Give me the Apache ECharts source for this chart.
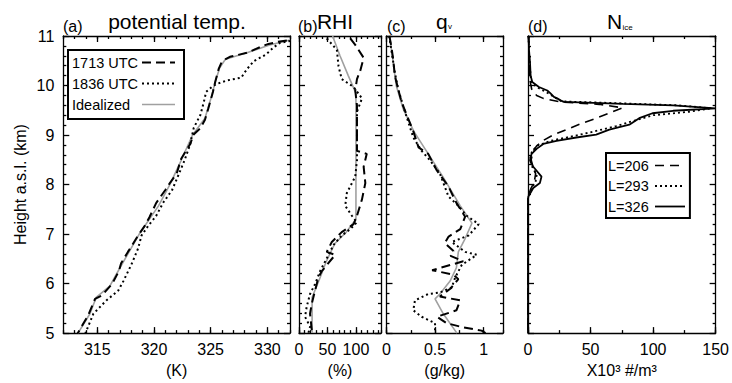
<!DOCTYPE html>
<html><head><meta charset="utf-8">
<script src="https://cdn.jsdelivr.net/npm/echarts@6/dist/echarts.min.js"></script>
<style>html,body{margin:0;padding:0;background:#fff}#c{width:732px;height:383px}</style>
</head><body><div id="c"></div>
<script>
// ---------- tick labels ----------
const heightTicks = [5, 6, 7, 8, 9, 10, 11];
const thetaTicks = [315, 320, 325, 330];
const rhiTicks = [0, 50, 100];
const qvTicks = [0, 0.5, 1];
const niceTicks = [0, 50, 100, 150];

// ---------- (a) potential temperature [K, km] ----------
const theta1713 = [[313.0,4.9],[313.2,4.97],[314.2,5.36],[314.8,5.69],[315.4,5.76],[316.3,5.99],[316.9,6.25],[317.1,6.41],[317.7,6.64],[318.6,6.97],[319.2,7.17],[319.6,7.34],[320.2,7.63],[321.0,7.89],[321.4,8.03],[322.0,8.22],[322.4,8.52],[323.2,8.82],[323.5,9.01],[324.1,9.14],[324.5,9.31],[324.8,9.54],[325.2,9.87],[325.4,10.07],[325.7,10.33],[326.0,10.49],[326.7,10.58],[328.2,10.66],[329.6,10.8],[330.1,10.84],[331.1,10.89],[332.0,10.92]];
const theta1836 = [[313.7,4.9],[313.9,4.97],[314.65,5.39],[315.8,5.66],[316.85,5.86],[317.3,6.05],[318.0,6.38],[318.6,6.71],[318.9,6.97],[319.5,7.17],[320.2,7.37],[320.8,7.63],[321.6,7.89],[322.1,8.16],[322.7,8.49],[323.2,8.82],[323.5,9.14],[324.1,9.41],[324.4,9.67],[324.6,9.87],[325.1,9.97],[325.5,10.03],[326.4,10.1],[327.7,10.16],[328.2,10.33],[328.8,10.49],[329.9,10.63],[330.5,10.76],[331.1,10.86],[332.0,10.9]];
const thetaIdeal = [[313.1,4.9],[313.3,5.0],[314.35,5.39],[314.9,5.72],[316.1,5.95],[317.0,6.32],[318.7,7.0],[320.4,7.57],[321.4,8.0],[322.4,8.49],[323.4,9.0],[324.5,9.34],[325.1,9.8],[325.4,10.07],[325.8,10.36],[326.3,10.53],[328.2,10.66],[330.2,10.82],[332.0,10.92]];

// ---------- (b) RHI [%, km] ----------
const rhi1713 = [[90,10.95],[98.8,10.82],[113.5,10.56],[107.6,10.3],[101.8,10.13],[98.8,9.9],[101.8,9.6],[101.8,9.28],[101.8,8.95],[101.8,8.68],[119,8.62],[113.5,8.36],[116.5,8.03],[110.6,7.7],[101.8,7.37],[95.9,7.2],[75,7.04],[57.6,6.84],[48.8,6.64],[63.5,6.58],[40,6.25],[34,6.12],[28.2,5.86],[22.4,5.59],[19.4,5.39],[22.4,5.07],[25,5.0]];
const rhi1836 = [[48.8,10.95],[66.5,10.72],[69.4,10.39],[75,10.13],[95.9,9.97],[110.6,9.74],[101.8,9.47],[101.8,9.14],[101.8,8.82],[101.8,8.49],[98.8,8.16],[84,7.83],[81.2,7.57],[92.9,7.37],[101.8,7.24],[90,7.1],[75,6.97],[60.6,6.78],[48.8,6.51],[37,6.25],[28.2,5.99],[19.4,5.79],[13.5,5.53],[10.6,5.33],[19.4,5.13],[16.5,5.0]];
const rhiIdeal = [[59,11],[72,10.6],[86.5,10.2],[100,9.84],[100,7.3],[83,7.04],[63,6.81],[48,6.45],[37,6.12],[23,5.72],[23,5.0]];

// ---------- (c) qv [g/kg, km] ----------
const qv1713 = [[0.03,11],[0.05,10.79],[0.069,10.53],[0.086,10.2],[0.12,9.93],[0.155,9.67],[0.207,9.41],[0.276,9.08],[0.33,8.75],[0.43,8.62],[0.517,8.29],[0.638,7.96],[0.72,7.63],[0.81,7.35],[0.76,7.1],[0.64,6.95],[0.6,6.82],[0.69,6.66],[0.66,6.56],[0.79,6.45],[0.47,6.27],[0.69,6.18],[0.74,6.09],[0.66,5.9],[0.55,5.74],[0.76,5.66],[0.72,5.46],[0.52,5.33],[0.62,5.2],[0.78,5.12],[0.98,5.05],[1.02,5.0]];
const qv1836 = [[0.028,11],[0.05,10.72],[0.086,10.26],[0.12,9.93],[0.19,9.47],[0.276,8.95],[0.362,8.68],[0.448,8.49],[0.55,8.22],[0.638,7.76],[0.74,7.57],[0.826,7.37],[0.95,7.2],[0.845,6.97],[0.672,6.84],[0.81,6.64],[0.93,6.58],[0.776,6.38],[0.707,6.12],[0.672,5.92],[0.55,5.82],[0.43,5.79],[0.293,5.66],[0.276,5.46],[0.362,5.33],[0.5,5.2],[0.5,5.0]];
const qvIdeal = [[0.03,11],[0.06,10.6],[0.1,10.0],[0.17,9.54],[0.28,9.08],[0.41,8.68],[0.58,8.16],[0.76,7.57],[0.88,7.22],[0.81,6.91],[0.74,6.64],[0.72,6.32],[0.655,6.05],[0.55,5.79],[0.5,5.69],[0.585,5.39],[0.725,5.0]];

// ---------- (d) Nice [x10^3 #/m3, km] ----------
const nice206 = [[0.5,11],[0.8,10.7],[1.2,10.4],[1.6,10.1],[2.9,9.93],[6.9,9.8],[12.2,9.74],[25.4,9.67],[57,9.62],[75.7,9.55],[67.7,9.47],[54.5,9.34],[41.3,9.22],[30.7,9.11],[20.1,9.0],[12.2,8.89],[6.9,8.78],[4.2,8.68],[2.5,8.5],[4,8.35],[6.1,8.22],[5,8.05],[2.5,7.93],[0.3,7.78],[0,7.7],[0,5.0]];
const nice293 = [[0.5,11],[0.8,10.7],[1.5,10.45],[2,10.2],[3,10.05],[7,9.97],[12,9.9],[17,9.83],[22,9.75],[27,9.68],[75,9.64],[120,9.6],[147,9.54],[128.6,9.47],[100,9.4],[83.6,9.28],[70.4,9.18],[49.2,9.05],[30.7,8.95],[17.5,8.88],[6.9,8.78],[2.9,8.65],[1.5,8.5],[3.5,8.35],[7,8.2],[6,8.05],[3,7.93],[0.3,7.78],[0,7.7],[0,5.0]];
const nice326 = [[0.5,11],[0.8,10.72],[1.6,10.46],[2.1,10.2],[3.4,10.07],[8.7,9.97],[15.4,9.9],[18,9.84],[20.7,9.77],[23.3,9.74],[26,9.7],[28.6,9.67],[76,9.63],[116,9.6],[150,9.54],[116,9.49],[99.5,9.44],[88.9,9.34],[81,9.21],[65,9.11],[54.5,9.01],[38.6,8.95],[22.8,8.88],[12.2,8.82],[6.9,8.72],[2.9,8.62],[1.6,8.49],[4.2,8.36],[10.8,8.16],[9.5,8.03],[4.2,7.93],[0.3,7.76],[0,7.7],[0,5.0]];

// ---------- layout / style ----------
const FONT = '"Liberation Sans", Arial, sans-serif';
const TOP = 36, HEIGHT = 303;
const AX = { color: '#000', width: 1.3 };
const panels = [
  { left: 63.3, width: 226.7, min: 312, max: 332, minor: 1, majors: thetaTicks, name: '(K)' },
  { left: 299, width: 82, min: 0, max: 144, minor: 10, majors: rhiTicks, name: '(%)' },
  { left: 386.5, width: 116.5, min: 0, max: 1.2, minor: 0.25, majors: qvTicks, name: '(g/kg)' },
  { left: 528, width: 189, min: 0, max: 150, minor: 25, majors: niceTicks, name: 'X10\u00B3 #/m\u00B3' }
];

const grid = [], xAxis = [], yAxis = [];
panels.forEach((p, g) => {
  grid.push({ left: p.left, top: TOP, width: p.width, height: HEIGHT, containLabel: false });
  const base = { gridIndex: g, type: 'value', min: p.min, max: p.max, splitLine: { show: false } };
  xAxis.push(Object.assign({}, base, {
    position: 'bottom', interval: p.minor,
    axisLine: { show: true, onZero: false, lineStyle: AX },
    axisTick: { show: true, inside: true, length: 3, lineStyle: AX },
    axisLabel: { show: true, customValues: p.majors, margin: 8, fontSize: 16, color: '#000', fontFamily: FONT },
    name: p.name, nameLocation: 'middle', nameGap: 25,
    nameTextStyle: { fontSize: 16, color: '#000', fontFamily: FONT }
  }));
  xAxis.push(Object.assign({}, base, {
    position: 'bottom',
    axisLine: { show: false, onZero: false },
    axisTick: { show: true, inside: true, length: 6, customValues: p.majors, lineStyle: AX },
    axisLabel: { show: false }
  }));
  xAxis.push(Object.assign({}, base, {
    position: 'top', interval: p.minor,
    axisLine: { show: true, onZero: false, lineStyle: AX },
    axisTick: { show: true, inside: true, length: 3, lineStyle: AX },
    axisLabel: { show: false }
  }));
  xAxis.push(Object.assign({}, base, {
    position: 'top',
    axisLine: { show: false, onZero: false },
    axisTick: { show: true, inside: true, length: 6, customValues: p.majors, lineStyle: AX },
    axisLabel: { show: false }
  }));
  const ybase = {
    gridIndex: g, type: 'value', min: heightTicks[0], max: heightTicks[heightTicks.length - 1], interval: 1,
    splitLine: { show: false }, minorSplitLine: { show: false },
    axisLine: { show: true, onZero: false, lineStyle: AX },
    axisTick: { show: true, inside: true, length: 6, lineStyle: AX },
    minorTick: { show: true, splitNumber: 5, length: 3, lineStyle: AX }
  };
  yAxis.push(Object.assign({}, ybase, {
    position: 'left',
    axisLabel: { show: g === 0, margin: 9, fontSize: 16, color: '#000', fontFamily: FONT },
    name: g === 0 ? 'Height a.s.l. (km)' : '', nameLocation: 'middle', nameGap: 35,
    nameTextStyle: { fontSize: 16, color: '#000', fontFamily: FONT }
  }));
  yAxis.push(Object.assign({}, ybase, { position: 'right', axisLabel: { show: false } }));
});

const DASH = { color: '#000', width: 2, type: [9, 5] };
const DOT = { color: '#000', width: 2, type: [2, 3] };
const GRAY = { color: '#a0a0a0', width: 1.6, type: 'solid' };
const DASH_D = { color: '#000', width: 1.6, type: [9, 6] };
const DOT_D = { color: '#000', width: 1.8, type: [2, 3] };
const SOLID_D = { color: '#000', width: 1.8, type: 'solid' };

function line(name, g, data, style) {
  return { type: 'line', name: name, xAxisIndex: g * 4, yAxisIndex: g * 2, data: data,
    symbol: 'none', showSymbol: false, lineStyle: style, itemStyle: { color: style.color },
    silent: true, animation: false };
}

const series = [
  line('Idealized', 0, thetaIdeal, GRAY), line('1713 UTC', 0, theta1713, DASH), line('1836 UTC', 0, theta1836, DOT),
  line('Idealized', 1, rhiIdeal, GRAY), line('1713 UTC', 1, rhi1713, DASH), line('1836 UTC', 1, rhi1836, DOT),
  line('Idealized', 2, qvIdeal, GRAY), line('1713 UTC', 2, qv1713, DASH), line('1836 UTC', 2, qv1836, DOT),
  line('L=206', 3, nice206, DASH_D), line('L=293', 3, nice293, DOT_D), line('L=326', 3, nice326, SOLID_D)
];

function legendBox(names, left, top, textW, iconW, gap, pad) {
  return {
    data: names, orient: 'vertical', left: left, top: top, align: 'right',
    itemWidth: iconW, itemHeight: 14, itemGap: gap, padding: pad,
    borderColor: '#000', borderWidth: 2, backgroundColor: '#fff', selectedMode: false,
    itemStyle: { opacity: 0 },
    lineStyle: { width: 'inherit' },
    formatter: '{n|{name}}',
    textStyle: { fontSize: 14.5, color: '#000', fontFamily: FONT,
      rich: { n: { width: textW, align: 'left', fontSize: 14.5, color: '#000', fontFamily: FONT } } }
  };
}

const TXT = (x, y, text, size, align) => ({ type: 'text', x: x, y: y, silent: true,
  style: { text: text, fontSize: size, fontFamily: FONT, fill: '#000', align: align || 'left', verticalAlign: 'middle' } });

const graphic = [
  TXT(63, 26, '(a)', 16), TXT(177, 21, 'potential temp.', 21, 'center'),
  TXT(298, 26, '(b)', 16), TXT(335, 21, 'RHI', 21, 'center'),
  TXT(387, 26, '(c)', 16),
  TXT(436, 21, 'q', 21), TXT(448, 26.5, 'v', 8),
  TXT(528, 26, '(d)', 16),
  TXT(607, 21, 'N', 21), TXT(622.5, 27, 'ice', 8)
];

const chart = echarts.init(document.getElementById('c'), null, { renderer: 'svg' });
chart.setOption({
  animation: false,
  backgroundColor: '#fff',
  grid: grid, xAxis: xAxis, yAxis: yAxis, series: series,
  legend: [
    legendBox(['1713 UTC', '1836 UTC', 'Idealized'], 68, 50, 65, 33, 6, [5, 8, 7, 4]),
    legendBox(['L=206', 'L=293', 'L=326'], 606, 153, 42, 30, 5.5, [5, 4, 4, 2])
  ],
  graphic: graphic
});
</script></body></html>
